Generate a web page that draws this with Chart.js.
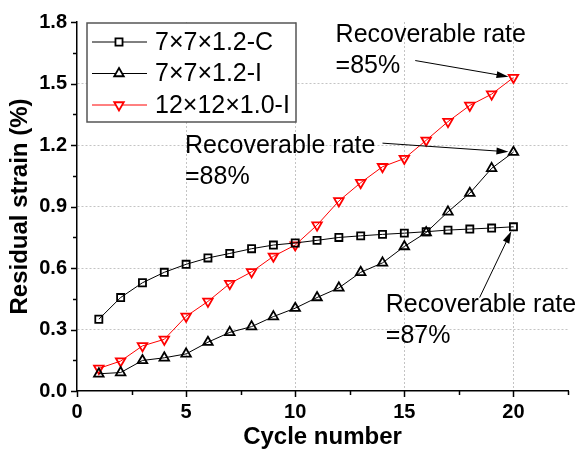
<!DOCTYPE html>
<html>
<head>
<meta charset="utf-8">
<script src="https://cdn.jsdelivr.net/npm/chart.js@4.4.0/dist/chart.umd.min.js"></script>
<style>
html, body { margin: 0; padding: 0; background: #fff; }
</style>
</head>
<body>
<canvas id="myChart" width="578" height="457"></canvas>
<script>
var cycles = [1, 2, 3, 4, 5, 6, 7, 8, 9, 10, 11, 12, 13, 14, 15, 16, 17, 18, 19, 20];
var strainC7 = [0.350, 0.456, 0.528, 0.579, 0.618, 0.649, 0.671, 0.694, 0.712, 0.722,
                0.735, 0.749, 0.757, 0.764, 0.770, 0.777, 0.785, 0.790, 0.795, 0.801];
var strainI7 = [0.084, 0.090, 0.149, 0.162, 0.181, 0.238, 0.286, 0.314, 0.363, 0.404,
                0.456, 0.503, 0.579, 0.625, 0.705, 0.773, 0.874, 0.965, 1.086, 1.165];
var strainI12 = [0.110, 0.146, 0.220, 0.252, 0.364, 0.437, 0.524, 0.581, 0.657, 0.712,
                 0.809, 0.927, 1.016, 1.094, 1.134, 1.223, 1.314, 1.393, 1.448, 1.529];
var seriesNames = ['7×7×1.2-C', '7×7×1.2-I', '12×12×1.0-I'];
var rateLabels = ['=85%', '=88%', '=87%'];

var FONT = "'Liberation Sans', Arial, sans-serif";

function toPoints(ys) {
  var pts = [];
  for (var i = 0; i < cycles.length; i++) {
    pts.push({x: cycles[i], y: ys[i]});
  }
  return pts;
}

// notes: which series (and its last point) the arrow points at, text anchor in data units
var notes = [
  {series: 2, text: ['Recoverable rate', rateLabels[0]], tx: 11.85, ty: 1.738, ax: 15.5, ay: 1.612},
  {series: 1, text: ['Recoverable rate', rateLabels[1]], tx: 4.95, ty: 1.194, ax: 14.0, ay: 1.209},
  {series: 0, text: ['Recoverable rate', rateLabels[2]], tx: 14.15, ty: 0.417, ax: 18.45, ay: 0.456}
];

function drawArrow(ctx, x1, y1, x2, y2) {
  var ang = Math.atan2(y2 - y1, x2 - x1);
  var hl = 12, hw = 3.5;
  ctx.beginPath();
  ctx.moveTo(x1, y1);
  ctx.lineTo(x2 - Math.cos(ang) * hl * 0.8, y2 - Math.sin(ang) * hl * 0.8);
  ctx.stroke();
  ctx.beginPath();
  ctx.moveTo(x2, y2);
  ctx.lineTo(x2 - Math.cos(ang) * hl - Math.sin(ang) * hw, y2 - Math.sin(ang) * hl + Math.cos(ang) * hw);
  ctx.lineTo(x2 - Math.cos(ang) * hl + Math.sin(ang) * hw, y2 - Math.sin(ang) * hl - Math.cos(ang) * hw);
  ctx.closePath();
  ctx.fill();
}

var tickPlugin = {
  id: 'tickMarks',
  afterDraw: function(chart) {
    var ctx = chart.ctx;
    var xs = chart.scales.x, ys = chart.scales.y;
    ctx.save();
    ctx.strokeStyle = '#000';
    ctx.lineWidth = 1.5;
    xs.ticks.forEach(function(t) {
      var px = Math.round(xs.getPixelForValue(t.value)) + 0.5;
      var len = (t.value % 5 === 0) ? 6 : 4;
      ctx.beginPath();
      ctx.moveTo(px, xs.top);
      ctx.lineTo(px, xs.top + len);
      ctx.stroke();
    });
    ys.ticks.forEach(function(t) {
      var py = Math.round(ys.getPixelForValue(t.value)) + 0.5;
      var len = (Math.round(t.value / 0.15) % 2 === 0) ? 6 : 4;
      ctx.beginPath();
      ctx.moveTo(ys.right, py);
      ctx.lineTo(ys.right - len, py);
      ctx.stroke();
    });
    ctx.restore();
  }
};

var legendPlugin = {
  id: 'boxLegend',
  afterDraw: function(chart) {
    var ctx = chart.ctx;
    var box = {left: 87, top: 23, right: 296, bottom: 122};
    ctx.save();
    ctx.fillStyle = '#fff';
    ctx.fillRect(box.left, box.top, box.right - box.left, box.bottom - box.top);
    ctx.strokeStyle = '#555';
    ctx.lineWidth = 1.5;
    ctx.strokeRect(box.left, box.top, box.right - box.left, box.bottom - box.top);
    ctx.font = '25px ' + FONT;
    ctx.textBaseline = 'middle';
    chart.data.datasets.forEach(function(ds, i) {
      var y = 42 + i * 31.5;
      ctx.strokeStyle = ds.borderColor;
      ctx.lineWidth = 1;
      ctx.beginPath();
      ctx.moveTo(92, y);
      ctx.lineTo(147, y);
      ctx.stroke();
      ctx.fillStyle = '#fff';
      ctx.strokeStyle = ds.pointBorderColor;
      ctx.lineWidth = ds.pointBorderWidth;
      Chart.helpers.drawPoint(ctx, {
        pointStyle: ds.pointStyle, rotation: ds.pointRotation || 0,
        radius: ds.pointRadius, borderWidth: ds.pointBorderWidth
      }, 119, y);
      ctx.fillStyle = '#000';
      ctx.fillText(ds.label, 155, y + 1);
    });
    ctx.restore();
  }
};

var notePlugin = {
  id: 'rateNotes',
  afterDraw: function(chart) {
    var ctx = chart.ctx;
    var xs = chart.scales.x, ys = chart.scales.y;
    ctx.save();
    ctx.font = '25px ' + FONT;
    ctx.textBaseline = 'middle';
    ctx.fillStyle = '#000';
    ctx.strokeStyle = '#000';
    ctx.lineWidth = 1;
    notes.forEach(function(n) {
      var tx = xs.getPixelForValue(n.tx), ty = ys.getPixelForValue(n.ty);
      n.text.forEach(function(line, k) {
        ctx.fillText(line, tx, ty + k * 31);
      });
      var ds = chart.data.datasets[n.series].data;
      var last = ds[ds.length - 1];
      var px = xs.getPixelForValue(last.x), py = ys.getPixelForValue(last.y);
      var sx = xs.getPixelForValue(n.ax), sy = ys.getPixelForValue(n.ay);
      var d = Math.hypot(px - sx, py - sy);
      var ex = px - (px - sx) / d * 5, ey = py - (py - sy) / d * 5;
      drawArrow(ctx, sx, sy, ex, ey);
    });
    ctx.restore();
  }
};

var ctx = document.getElementById('myChart');
var chart = new Chart(ctx, {
  type: 'line',
  data: {
    datasets: [{
      label: seriesNames[0],
      data: toPoints(strainC7),
      borderColor: '#000',
      borderWidth: 1,
      pointStyle: 'rect',
      pointRadius: 5,
      pointBorderWidth: 1.8,
      pointBorderColor: '#000',
      pointBackgroundColor: 'rgba(255,255,255,0)'
    }, {
      label: seriesNames[1],
      data: toPoints(strainI7),
      borderColor: '#000',
      borderWidth: 1,
      pointStyle: 'triangle',
      pointRadius: 5.5,
      pointBorderWidth: 1.8,
      pointBorderColor: '#000',
      pointBackgroundColor: 'rgba(255,255,255,0)'
    }, {
      label: seriesNames[2],
      data: toPoints(strainI12),
      borderColor: '#ff0000',
      borderWidth: 1,
      pointStyle: 'triangle',
      pointRotation: 180,
      pointRadius: 5.5,
      pointBorderWidth: 1.8,
      pointBorderColor: '#ff0000',
      pointBackgroundColor: 'rgba(255,255,255,0)'
    }]
  },
  options: {
    responsive: false,
    animation: false,
    layout: {padding: {top: 19, right: 10, left: 0, bottom: 0}},
    plugins: {
      legend: {display: false},
      tooltip: {enabled: false}
    },
    scales: {
      x: {
        type: 'linear',
        min: 0,
        max: 22.5,
        afterFit: function(s) { s.height = 66; },
        ticks: {
          stepSize: 2.5,
          padding: 9,
          color: '#000',
          font: {family: FONT, size: 20, weight: 'bold'},
          maxRotation: 0,
          autoSkip: false,
          callback: function(v) { return v % 5 === 0 ? String(v) : ''; }
        },
        grid: {
          drawTicks: false,
          lineWidth: 1,
          color: function(c) {
            var v = c.tick ? c.tick.value : 0;
            return (v % 5 === 0 && v > 0 && v < 22.5) ? '#c4c4c4' : 'rgba(0,0,0,0)';
          }
        },
        border: {color: '#000', width: 1.5, dash: [2, 2]},
        title: {
          display: true,
          text: 'Cycle number',
          color: '#000',
          font: {family: FONT, size: 24, weight: 'bold'},
          padding: {top: 0, bottom: 5}
        }
      },
      y: {
        min: 0,
        max: 1.8,
        afterFit: function(s) { s.width = 77; },
        ticks: {
          stepSize: 0.15,
          padding: 10,
          color: '#000',
          font: {family: FONT, size: 20, weight: 'bold'},
          autoSkip: false,
          callback: function(v) { return Math.round(v / 0.15) % 2 === 0 ? v.toFixed(1) : ''; }
        },
        grid: {
          drawTicks: false,
          lineWidth: 1,
          color: function(c) {
            var v = c.tick ? c.tick.value : 0;
            var k = Math.round(v / 0.15);
            return (k % 2 === 0 && k > 0 && k < 12) ? '#c4c4c4' : 'rgba(0,0,0,0)';
          }
        },
        border: {color: '#000', width: 1.5, dash: [2, 2]},
        title: {
          display: true,
          text: 'Residual strain (%)',
          color: '#000',
          font: {family: FONT, size: 24, weight: 'bold'},
          padding: {top: 6, bottom: 0}
        }
      }
    }
  },
  plugins: [tickPlugin, legendPlugin, notePlugin]
});
</script>
</body>
</html>
